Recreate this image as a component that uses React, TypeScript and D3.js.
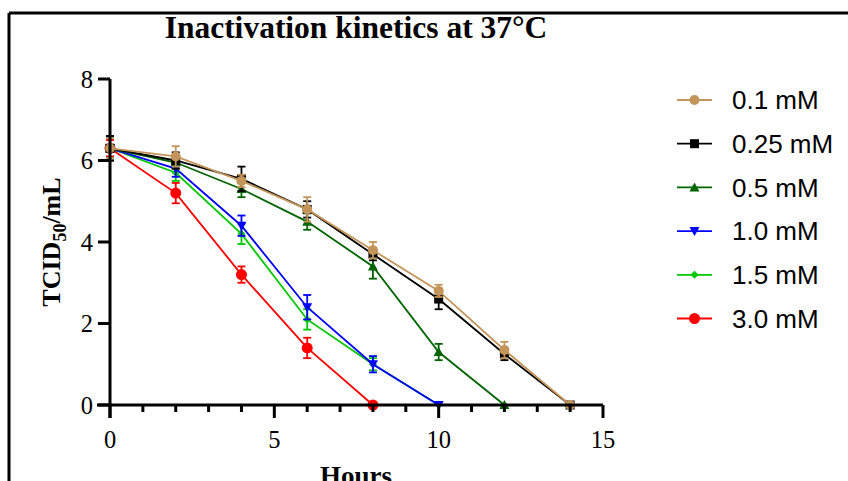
import React from "react";
import * as d3 from "d3";

const hours = [0, 2, 4, 6, 8, 10, 12, 14];
const seriesNames = ["0.1 mM", "0.25 mM", "0.5 mM", "1.0 mM", "1.5 mM", "3.0 mM"];
const seriesColors = ["#C4955A", "#000000", "#006400", "#0000FF", "#00C800", "#FF0000"];
const seriesShapes = ["circle", "square", "triangle", "triangleDown", "diamond", "bigcircle"];
const v01 = [6.3, 6.1, 5.5, 4.8, 3.8, 2.8, 1.35, 0];
const e01 = [0.25, 0.25, 0.15, 0.3, 0.2, 0.15, 0.2, 0];
const v025 = [6.3, 6.0, 5.55, 4.8, 3.7, 2.6, 1.25, 0];
const e025 = [0.3, 0.2, 0.3, 0.2, 0.15, 0.25, 0.15, 0];
const v05 = [6.3, 5.95, 5.3, 4.5, 3.4, 1.3, 0];
const e05 = [0.3, 0.15, 0.2, 0.2, 0.3, 0.2, 0];
const v10 = [6.3, 5.8, 4.4, 2.4, 1.0, 0];
const e10 = [0.3, 0.2, 0.25, 0.3, 0.2, 0];
const v15 = [6.3, 5.7, 4.2, 2.1, 1.0, 0];
const e15 = [0.25, 0.2, 0.25, 0.25, 0.15, 0];
const v30 = [6.3, 5.2, 3.2, 1.4, 0];
const e30 = [0.2, 0.25, 0.2, 0.25, 0];
const seriesValues = [v01, v025, v05, v10, v15, v30];
const seriesErrors = [e01, e025, e05, e10, e15, e30];
const xTicks = [0, 5, 10, 15];
const yTicks = [0, 2, 4, 6, 8];

const x = d3.scaleLinear().domain([0, 15]).range([110, 603]);
const y = d3.scaleLinear().domain([0, 8]).range([405, 79]);

const SERIF = "Liberation Serif, Times New Roman, serif";

function Marker({ shape, cx, cy, color }: { shape: string; cx: number; cy: number; color: string }) {
  if (shape === "circle") return <circle cx={cx} cy={cy} r={5} fill={color} />;
  if (shape === "bigcircle") return <circle cx={cx} cy={cy} r={5.5} fill={color} />;
  if (shape === "square") return <rect x={cx - 4.5} y={cy - 4.5} width={9} height={9} fill={color} />;
  if (shape === "triangle")
    return <path d={`M${cx},${cy - 5}L${cx + 5},${cy + 4}L${cx - 5},${cy + 4}Z`} fill={color} />;
  if (shape === "triangleDown")
    return <path d={`M${cx},${cy + 5}L${cx + 5},${cy - 4}L${cx - 5},${cy - 4}Z`} fill={color} />;
  return <path d={`M${cx},${cy - 4}L${cx + 4},${cy}L${cx},${cy + 4}L${cx - 4},${cy}Z`} fill={color} />;
}

export default function App() {
  const line = d3
    .line<number>()
    .x((_, i) => x(hours[i]))
    .y((d) => y(d));
  const order = [5, 4, 3, 2, 1, 0];
  const minor = d3.range(1, 15).filter((h) => h % 5 !== 0);
  return (
    <svg width={848} height={481} style={{ position: "absolute", left: 0, top: 0, background: "#fff" }}>
      <rect x={0} y={0} width={848} height={481} fill="#fff" />
      {/* frame */}
      <line x1={9} y1={13} x2={848} y2={13} stroke="#000" strokeWidth={3} />
      <line x1={9} y1={13} x2={9} y2={481} stroke="#000" strokeWidth={3} />
      {/* title */}
      <text x={356} y={38} textAnchor="middle" fontFamily={SERIF} fontWeight="bold" fontSize={31.5}>
        Inactivation kinetics at 37°C
      </text>
      {/* series */}
      {order.map((si) => {
        const vals = seriesValues[si];
        const errs = seriesErrors[si];
        const c = seriesColors[si];
        return (
          <g key={si}>
            <path d={line(vals) || ""} fill="none" stroke={c} strokeWidth={1.8} />
            {vals.map((v, i) =>
              errs[i] > 0 ? (
                <g key={i} stroke={c} strokeWidth={1.8}>
                  <line x1={x(hours[i])} x2={x(hours[i])} y1={y(v - errs[i])} y2={y(v + errs[i])} />
                  <line x1={x(hours[i]) - 4} x2={x(hours[i]) + 4} y1={y(v + errs[i])} y2={y(v + errs[i])} />
                  <line x1={x(hours[i]) - 4} x2={x(hours[i]) + 4} y1={y(v - errs[i])} y2={y(v - errs[i])} />
                </g>
              ) : null
            )}
            {vals.map((v, i) => (
              <Marker key={"m" + i} shape={seriesShapes[si]} cx={x(hours[i])} cy={y(v)} color={c} />
            ))}
          </g>
        );
      })}
      {/* axes */}
      <g stroke="#000" strokeWidth={3}>
        <line x1={x(0)} x2={x(0)} y1={y(8)} y2={y(0) + 13} />
        <line x1={x(0) - 13} x2={x(15)} y1={y(0)} y2={y(0)} />
        {yTicks.map((t) => (
          <line key={"yt" + t} x1={x(0) - 12} x2={x(0)} y1={y(t)} y2={y(t)} />
        ))}
        {xTicks.map((t) => (
          <line key={"xt" + t} x1={x(t)} x2={x(t)} y1={y(0)} y2={y(0) + 13} />
        ))}
        {minor.map((t) => (
          <line key={"xm" + t} x1={x(t)} x2={x(t)} y1={y(0)} y2={y(0) + 7} />
        ))}
      </g>
      <g fontFamily={SERIF} fontSize={24.5}>
        {yTicks.map((t) => (
          <text key={"yl" + t} x={x(0) - 17} y={y(t)} dy="0.35em" textAnchor="end">
            {t}
          </text>
        ))}
        {xTicks.map((t) => (
          <text key={"xl" + t} x={x(t)} y={y(0) + 43} textAnchor="middle">
            {t}
          </text>
        ))}
      </g>
      {/* axis titles */}
      <text x={356} y={485} textAnchor="middle" fontFamily={SERIF} fontWeight="bold" fontSize={27}>
        Hours
      </text>
      <text
        transform={`translate(60,242) rotate(-90)`}
        textAnchor="middle"
        fontFamily={SERIF}
        fontWeight="bold"
        fontSize={26}
      >
        TCID<tspan fontSize={18} dy={6}>50</tspan>
        <tspan dy={-6}>/mL</tspan>
      </text>
      {/* legend */}
      {seriesNames.map((n, i) => {
        const ly = 100 + i * 43.7;
        return (
          <g key={n}>
            <line x1={677} x2={712} y1={ly} y2={ly} stroke={seriesColors[i]} strokeWidth={1.8} />
            <Marker shape={seriesShapes[i]} cx={694.5} cy={ly} color={seriesColors[i]} />
            <text x={732} y={ly} dy="0.36em" fontFamily="Liberation Sans, Arial, sans-serif" fontSize={26}>
              {n}
            </text>
          </g>
        );
      })}
    </svg>
  );
}
